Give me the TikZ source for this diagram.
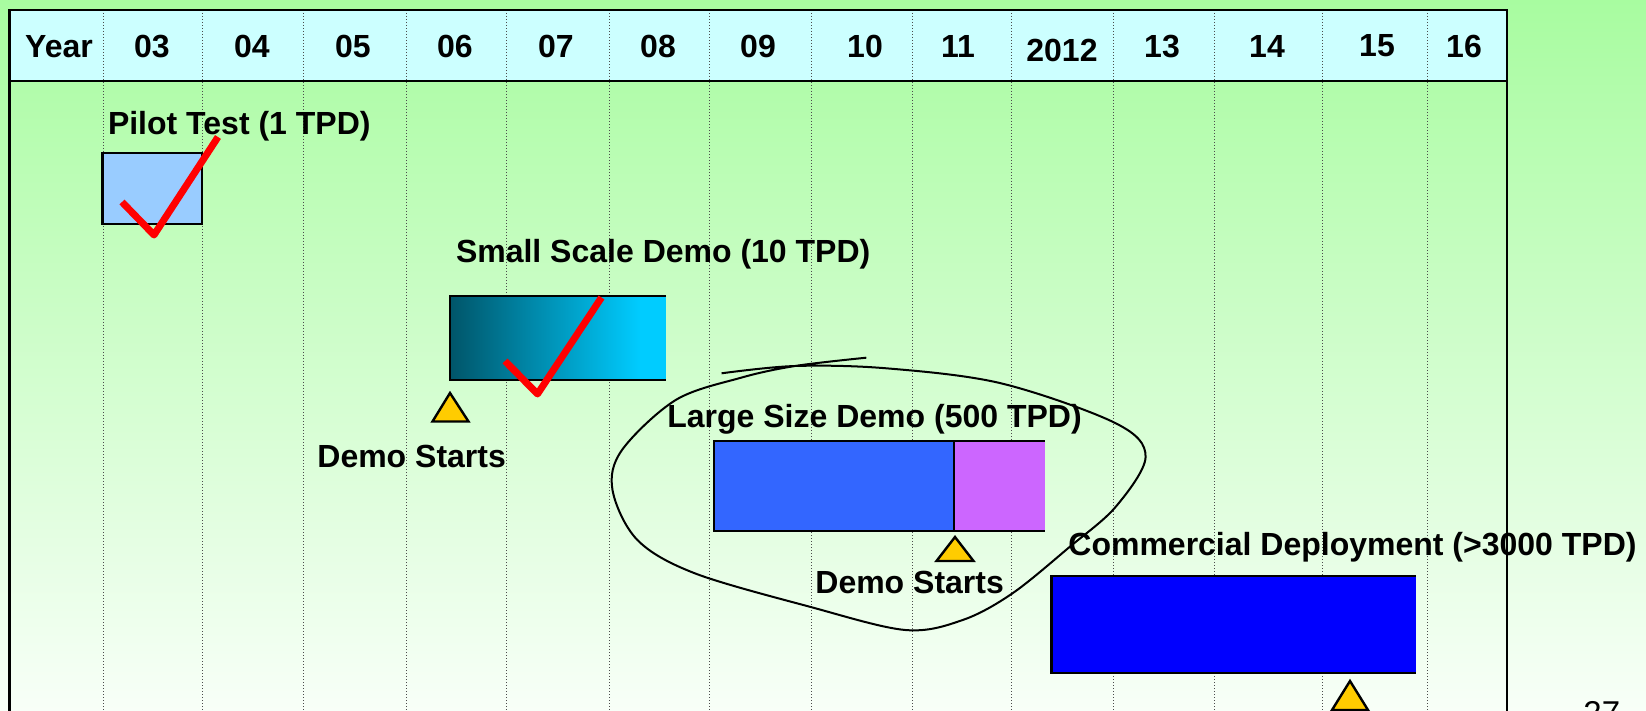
\documentclass[tikz,border=0pt]{standalone}
\usepackage{fontspec}
\setmainfont{Liberation Sans}
\definecolor{bgtop}{RGB}{168, 252, 160}
\definecolor{bgbot}{RGB}{248, 255, 248}
\definecolor{headcyan}{RGB}{204, 255, 255}
\definecolor{pilotblue}{RGB}{153, 204, 255}
\definecolor{tealdark}{RGB}{0, 85, 105}
\definecolor{skycyan}{RGB}{0, 204, 255}
\definecolor{largeblue}{RGB}{51, 102, 255}
\definecolor{violet1}{RGB}{204, 102, 255}
\definecolor{deepblue}{RGB}{0, 0, 255}
\definecolor{gold1}{RGB}{255, 204, 0}
\usetikzlibrary{calc}

\begin{document}
\begin{tikzpicture}[x=0.5pt, y=-0.5pt,
  yearlbl/.style={font=\fontsize{16}{19}\selectfont\bfseries, anchor=base, inner sep=0pt},
  barlbl/.style={font=\fontsize{16}{19}\selectfont\bfseries, anchor=base west, inner sep=0pt},
  barline/.style={line width=1.3pt},
  donemark/.style={red, line width=3.5pt, line join=round},
  startmark/.style={draw=black, fill=gold1, line width=1.2pt}]

  \useasboundingbox (0,0) rectangle (1646,711);
  \clip (0,0) rectangle (1646,711);

  % Background and frame
  \shade[top color=bgtop, bottom color=bgbot] (0,0) rectangle (1646,711);
  \fill[headcyan] (9.5,10) rectangle (1507,81);
  \foreach \gx in {103,202,303,406,506,609,709,811,912,1011,1113,1214,1322,1427}
    \draw[densely dotted, line width=0.5pt, black!70] (\gx,10) -- (\gx,711);
  \draw[line width=1.2pt] (9.5,720) -- (9.5,10) -- (1507,10) -- (1507,720);
  \draw[line width=1.2pt] (9.5,81) -- (1507,81);

  % Years
  \node[yearlbl] (yhead) at (59,58) {Year};
  \node[yearlbl] (y03) at (152,58) {03};
  \node[yearlbl] (y04) at (252,58) {04};
  \node[yearlbl] (y05) at (353,58) {05};
  \node[yearlbl] (y06) at (455,58) {06};
  \node[yearlbl] (y07) at (556,58) {07};
  \node[yearlbl] (y08) at (658,58) {08};
  \node[yearlbl] (y09) at (758,58) {09};
  \node[yearlbl] (y10) at (865,58) {10};
  \node[yearlbl] (y11) at (958,58) {11};
  \node[yearlbl] (y12) at (1062,62) {2012};
  \node[yearlbl] (y13) at (1162,58) {13};
  \node[yearlbl] (y14) at (1267,58) {14};
  \node[yearlbl] (y15) at (1377,57) {15};
  \node[yearlbl] (y16) at (1464,58) {16};

  % Pilot test
  \node[barlbl] (pilotlbl) at (107.6,135) {Pilot Test (1 TPD)};
  \draw[barline, fill=pilotblue] (102.5,153) rectangle (202,224);
  \draw[donemark] (122,202) -- (154,235) -- (218,137);

  % Small scale demo
  \node[barlbl] (smalllbl) at (455.6,263) {Small Scale Demo (10 TPD)};
  \shade[left color=tealdark, right color=skycyan] (450,296) rectangle (640,380);
  \fill[skycyan] (640,296) rectangle (666,380);
  \draw[barline] (666,296) -- (450,296) -- (450,380) -- (666,380);
  \draw[startmark] (450,393) -- (468.5,421.5) -- (432.5,421.5) -- cycle;
  \node[barlbl] (start1) at (317,468) {Demo Starts};
  \draw[donemark] (505,361) -- (537.5,394) -- (601.5,297.5);

  % Large size demo
  \node[barlbl] (largelbl) at (667,428) {Large Size Demo (500 TPD)};
  \fill[violet1] (954,441) rectangle (1045,531);
  \draw[barline, fill=largeblue] (714,441) rectangle (954,531);
  \draw[barline] (954,441) -- (1045,441);
  \draw[barline] (954,531) -- (1045,531);
  \draw[startmark] (955,537) -- (973.5,561) -- (936.5,561) -- cycle;
  \node[barlbl] (start2) at (815,593) {Demo Starts};

  % Commercial deployment
  \node[barlbl] (commlbl) at (1068,555) {Commercial Deployment (>3000 TPD)};
  \fill[deepblue] (1051.5,576) rectangle (1416,673);
  \draw[barline] (1416,576) -- (1051.5,576) -- (1051.5,673) -- (1416,673);
  \draw[startmark] (1350,681) -- (1368,710) -- (1332,710) -- cycle;

  % Hand-drawn loop round the large demo
  \draw[line width=1pt] plot[smooth, tension=0.55] coordinates {
    (721.6,373.3) (795,366) (886.2,368.3) (1001,383.3) (1115.8,423.3)
    (1145.6,456.7) (1115.8,506.7) (1069.9,546.7) (1012.5,593.3) (962.7,620)
    (905.3,630) (809.6,606.7) (694.8,573.3) (637.4,540) (612.5,490)
    (622,450) (675.7,400) (740,378) (795,366) (866.3,357.7)};

  \node[font=\fontsize{16.5}{19}\selectfont, anchor=base west, inner sep=0pt] (pagenum) at (1583,724) {27};
\end{tikzpicture}
\end{document}
